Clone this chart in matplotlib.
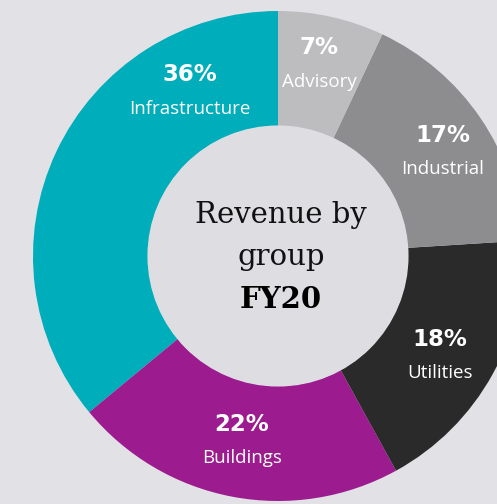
import matplotlib
matplotlib.use('Agg')
import matplotlib.pyplot as plt

# Revenue share by group, FY20 (drawn counter-clockwise from 12 o'clock)
groups = ['Infrastructure', 'Buildings', 'Utilities', 'Industrial', 'Advisory']
shares = [36, 22, 18, 17, 7]
colors = ['#00adba', '#9c1c8f', '#2a2a2a', '#8d8d8f', '#bdbdbf']

# where each label pair sits (pie units, centre = 0,0)
label_pos = [(-0.359, 0.671), (-0.147, -0.755), (0.661, -0.410),
             (0.673, 0.424), (0.167, 0.781)]

bg = '#e2e2e6'

fig = plt.figure(figsize=(4.97, 5.04), dpi=100)
fig.patch.set_facecolor(bg)
ax = fig.add_axes([0, 0, 1, 1])
ax.set_facecolor(bg)

ax.pie(shares, colors=colors, startangle=90, counterclock=True, radius=1,
       wedgeprops=dict(width=0.47, edgecolor='none'))

# centre disc
ax.add_patch(plt.Circle((0, 0), 0.53, color='#dedee2', zorder=3))

for name, val, (x, y) in zip(groups, shares, label_pos):
    ax.text(x, y + 0.069, f'{val}%', ha='center', va='center', color='white',
            fontsize=16.5, fontweight='heavy', family='DejaVu Sans', zorder=4)
    ax.text(x, y - 0.069, name, ha='center', va='center', color='white',
            fontsize=13.5, family='Open Sans', zorder=4)

ax.text(0.012, 0.135, 'Revenue by', ha='center', va='baseline', fontsize=21,
        family='DejaVu Serif', fontweight='light', color='#111111', zorder=4)
ax.text(0.012, -0.037, 'group', ha='center', va='baseline', fontsize=21,
        family='DejaVu Serif', fontweight='light', color='#111111', zorder=4)
ax.text(0.012, -0.212, 'FY20', ha='center', va='baseline', fontsize=21,
        family='DejaVu Serif', fontweight='heavy', color='#000000', zorder=4)

ax.set_aspect('auto')
ax.set_xlim(-278 / 245, (497 - 278) / 245)
ax.set_ylim(-(504 - 256) / 245, 256 / 245)
ax.axis('off')

fig.savefig('out.png', dpi=100, facecolor=bg)
